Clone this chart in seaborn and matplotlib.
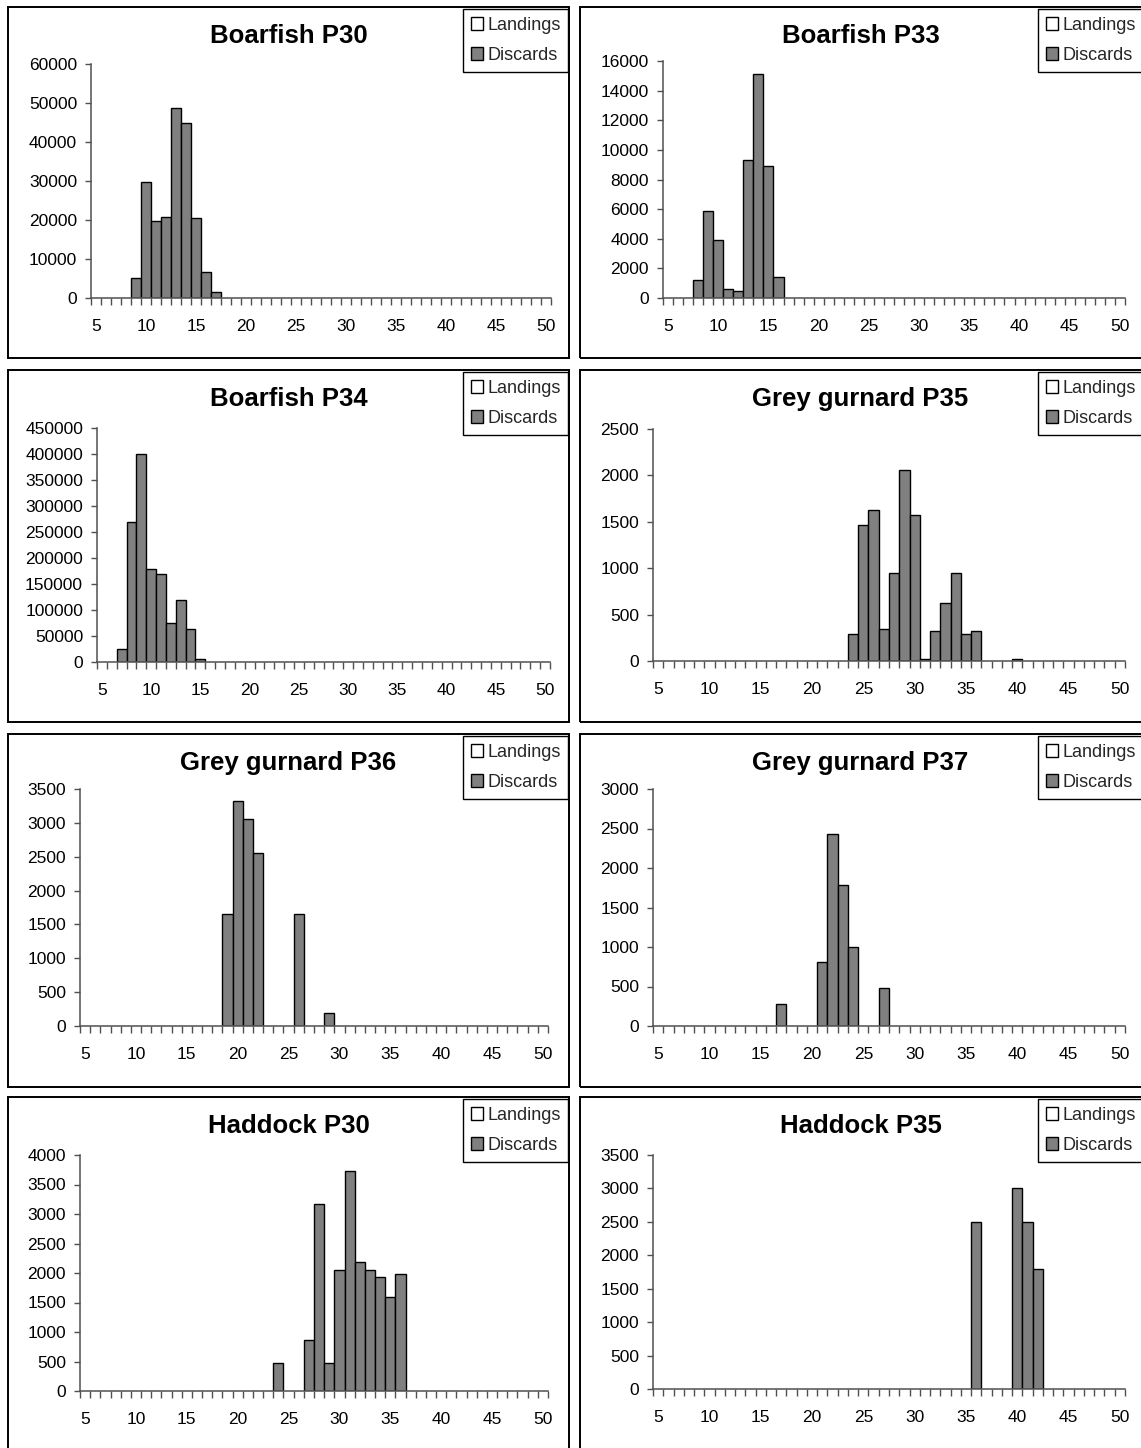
import matplotlib
matplotlib.use("Agg")
import matplotlib.pyplot as plt
import seaborn as sns
import pandas as pd
import numpy as np
from matplotlib.patches import Rectangle, Patch
from matplotlib.ticker import FixedLocator, MultipleLocator, FuncFormatter

sns.set_theme(style="white")
plt.rcParams["font.family"] = ["Liberation Sans", "DejaVu Sans"]

# ---------------- data ----------------
length_classes = list(range(5, 51))
xtick_labels = ["5", "10", "15", "20", "25", "30", "35", "40", "45", "50"]
legend_labels = ["Landings", "Discards"]

titles = ["Boarfish P30", "Boarfish P33", "Boarfish P34", "Grey gurnard P35",
          "Grey gurnard P36", "Grey gurnard P37", "Haddock P30", "Haddock P35"]

boarfish_p30_len = [9, 10, 11, 12, 13, 14, 15, 16, 17]
boarfish_p30_disc = [5200, 29800, 19700, 20800, 48700, 45000, 20400, 6700, 1500]

boarfish_p33_len = [8, 9, 10, 11, 12, 13, 14, 15, 16]
boarfish_p33_disc = [1200, 5900, 3900, 600, 500, 9300, 15100, 8900, 1400]

boarfish_p34_len = [7, 8, 9, 10, 11, 12, 13, 14, 15]
boarfish_p34_disc = [25000, 270000, 400000, 178000, 170000, 75000, 120000, 64000, 6000]

gurnard_p35_len = [24, 25, 26, 27, 28, 29, 30, 31, 32, 33, 34, 35, 36, 40]
gurnard_p35_disc = [290, 1470, 1630, 350, 950, 2060, 1570, 25, 320, 620, 950, 290, 320, 25]

gurnard_p36_len = [19, 20, 21, 22, 26, 29]
gurnard_p36_disc = [1650, 3330, 3050, 2560, 1650, 190]

gurnard_p37_len = [17, 21, 22, 23, 24, 27]
gurnard_p37_disc = [280, 810, 2430, 1780, 1000, 480]

haddock_p30_len = [24, 27, 28, 29, 30, 31, 32, 33, 34, 35, 36]
haddock_p30_disc = [470, 870, 3170, 470, 2050, 3730, 2190, 2050, 1940, 1600, 1990]

haddock_p35_len = [36, 40, 41, 42]
haddock_p35_disc = [2500, 3000, 2500, 1800]

y_max = [60000, 16000, 450000, 2500, 3500, 3000, 4000, 3500]
y_step = [10000, 2000, 50000, 500, 500, 500, 500, 500]

panel_lengths = [boarfish_p30_len, boarfish_p33_len, boarfish_p34_len, gurnard_p35_len,
                 gurnard_p36_len, gurnard_p37_len, haddock_p30_len, haddock_p35_len]
panel_discards = [boarfish_p30_disc, boarfish_p33_disc, boarfish_p34_disc, gurnard_p35_disc,
                  gurnard_p36_disc, gurnard_p37_disc, haddock_p30_disc, haddock_p35_disc]

# ---------------- layout (pixels) ----------------
W, H = 1141, 1448
fig = plt.figure(figsize=(W / 100, H / 100), dpi=100)
fig.patch.set_facecolor("white")

row_boxes = [(7, 358), (370, 722), (734, 1087), (1097, 1470)]
col_boxes = [(8, 569), (580, 1160)]
legend_right = [568, 1143]

# plot areas: (left, right, top, bottom)
plot_areas = [
    (91, 551, 64, 298), (663, 1125, 61, 298),
    (97, 550, 428, 662), (653, 1125, 429, 661),
    (80, 548, 789, 1026), (653, 1125, 789, 1026),
    (80, 548, 1155, 1391), (653, 1125, 1155, 1389),
]

AX_COLOR = "#505050"
BAR_COLOR = "#808080"

for i in range(8):
    r, c = divmod(i, 2)
    bx0, bx1 = col_boxes[c]
    by0, by1 = row_boxes[r]
    fig.add_artist(Rectangle((bx0 / W, 1 - by1 / H), (bx1 - bx0) / W, (by1 - by0) / H,
                             transform=fig.transFigure, fill=False,
                             edgecolor="black", linewidth=1.4))

    l, rr, t, b = plot_areas[i]
    ax = fig.add_axes([l / W, 1 - b / H, (rr - l) / W, (b - t) / H])
    df = pd.DataFrame({"length": panel_lengths[i], "discards": panel_discards[i]})
    sns.barplot(data=df, x="length", y="discards", order=length_classes,
                color=BAR_COLOR, saturation=1, width=1.0, edgecolor="black",
                linewidth=1.0, errorbar=None, ax=ax)
    ax.set_xlim(-0.5, 45.5)
    ax.set_ylim(0, y_max[i])
    ax.set_xlabel("")
    ax.set_ylabel("")
    ax.set_xticks(list(range(0, 46, 5)))
    ax.set_xticklabels(xtick_labels)
    ax.xaxis.set_minor_locator(FixedLocator(np.arange(-0.5, 46, 1)))
    ax.yaxis.set_major_locator(MultipleLocator(y_step[i]))
    ax.yaxis.set_major_formatter(FuncFormatter(lambda v, p: f"{int(round(v))}"))
    ax.tick_params(axis="x", which="major", length=0, pad=15, labelsize=12.5,
                   colors="black", bottom=True)
    ax.tick_params(axis="x", which="minor", length=5, width=1, color=AX_COLOR,
                   bottom=True, direction="out")
    ax.tick_params(axis="y", which="major", length=4, width=1, color=AX_COLOR,
                   left=True, pad=6, labelsize=12.5, labelcolor="black")
    sns.despine(ax=ax)
    for s in ["left", "bottom"]:
        ax.spines[s].set_color(AX_COLOR)
        ax.spines[s].set_linewidth(1.1)
    ax.patch.set_alpha(0)

    # title
    fig.text((bx0 + min(bx1, 1141)) / 2 / W, 1 - (by0 + 29) / H,
             titles[i], ha="center", va="center", fontsize=18.5, fontweight="bold",
             color="black")

    # legend
    handles = [Patch(facecolor="white", edgecolor="black", linewidth=1.0),
               Patch(facecolor=BAR_COLOR, edgecolor="black", linewidth=1.0)]
    leg = fig.legend(handles, legend_labels, loc="upper right",
                     bbox_to_anchor=(legend_right[c] / W, 1 - (by0 + 2) / H),
                     bbox_transform=fig.transFigure, fontsize=13, frameon=True,
                     fancybox=False, framealpha=1, edgecolor="black",
                     handlelength=0.7, handleheight=0.7, handletextpad=0.2,
                     labelspacing=0.75, borderpad=0.42, borderaxespad=0)
    leg.get_frame().set_linewidth(1.0)

fig.savefig("out.png", dpi=100, facecolor="white")
